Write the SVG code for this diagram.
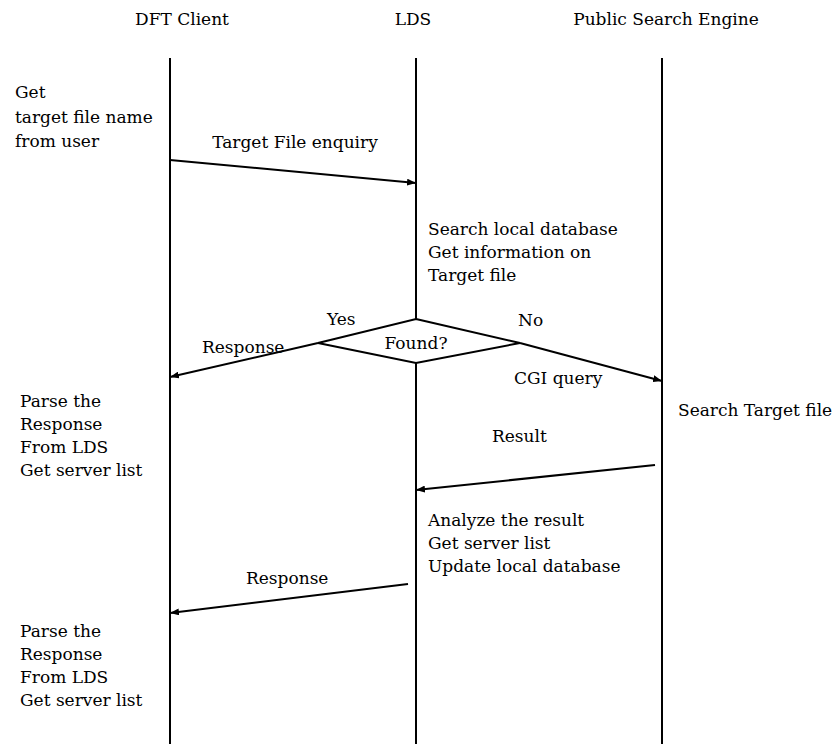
<svg xmlns="http://www.w3.org/2000/svg" width="840" height="744" viewBox="0 0 840 744">
<style>
text{font-family:"DejaVu Serif","Liberation Serif",serif;font-size:17px;fill:#000}
.l{stroke:#000;stroke-width:2;fill:none}
.a{stroke:#000;stroke-width:2;fill:none;marker-end:url(#ah)}
</style>
<defs>
<marker id="ah" viewBox="0 0 10 10" refX="10" refY="5" markerWidth="9" markerHeight="7" markerUnits="userSpaceOnUse" orient="auto" preserveAspectRatio="none">
<path d="M0,0 L10,5 L0,10 z" fill="#000"/>
</marker>
</defs>
<rect width="840" height="744" fill="#fff"/>
<g id="dft-client">
<text x="182" y="25" text-anchor="middle">DFT Client</text>
<line class="l" x1="170" y1="58" x2="170" y2="744"/>
</g>
<g id="lds">
<text x="413" y="25" text-anchor="middle">LDS</text>
<line class="l" x1="416" y1="58" x2="416" y2="319"/>
<line class="l" x1="416" y1="363" x2="416" y2="744"/>
</g>
<g id="public-search-engine">
<text x="666" y="25" text-anchor="middle">Public Search Engine</text>
<line class="l" x1="662" y1="58" x2="662" y2="744"/>
</g>
<g id="found">
<polygon class="l" points="416,319 520,343 416,363 318,343"/>
<text x="416" y="349" text-anchor="middle">Found?</text>
</g>
<g id="notes">
<text x="15" y="98">Get</text>
<text x="15" y="123">target file name</text>
<text x="15" y="147">from user</text>
<text x="428" y="235">Search local database</text>
<text x="428" y="258">Get information on</text>
<text x="428" y="281">Target file</text>
<text x="20" y="407">Parse the</text>
<text x="20" y="430">Response</text>
<text x="20" y="453">From LDS</text>
<text x="20" y="476">Get server list</text>
<text x="678" y="416">Search Target file</text>
<text x="428" y="526">Analyze the result</text>
<text x="428" y="549">Get server list</text>
<text x="428" y="572">Update local database</text>
<text x="20" y="637">Parse the</text>
<text x="20" y="660">Response</text>
<text x="20" y="683">From LDS</text>
<text x="20" y="706">Get server list</text>
</g>
<g id="connectors">
<line class="a" x1="170" y1="160" x2="416" y2="183"/>
<text x="295" y="148" text-anchor="middle">Target File enquiry</text>
<line class="a" x1="318" y1="343" x2="170" y2="377"/>
<text x="202" y="353">Response</text>
<text x="327" y="325">Yes</text>
<text x="518" y="326">No</text>
<line class="a" x1="520" y1="343" x2="662" y2="381"/>
<text x="514" y="384">CGI query</text>
<line class="a" x1="655" y1="465" x2="416" y2="490"/>
<text x="492" y="442">Result</text>
<line class="a" x1="408" y1="584" x2="170" y2="613"/>
<text x="246" y="584">Response</text>
</g>
</svg>
